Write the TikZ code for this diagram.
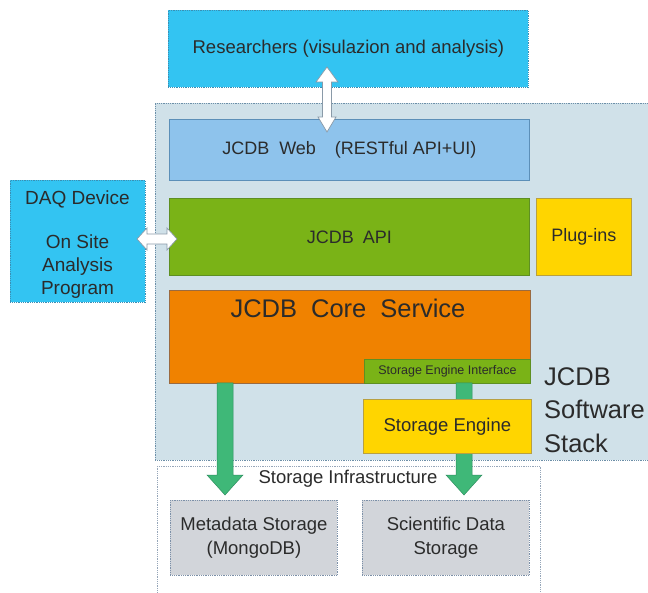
\documentclass[tikz,border=0pt]{standalone}
\usepackage{fontspec}
\setmainfont{Liberation Sans}
\definecolor{txt}{HTML}{2B2B2B}
\definecolor{cyanb}{HTML}{33C4F2}
\definecolor{cyanbd}{HTML}{3A8FB5}
\definecolor{stackbg}{HTML}{D0E1E9}
\definecolor{stackbd}{HTML}{6C8FA8}
\definecolor{webb}{HTML}{8EC3EC}
\definecolor{webbd}{HTML}{5C8FB8}
\definecolor{apig}{HTML}{7AB317}
\definecolor{apigd}{HTML}{5E8F22}
\definecolor{yel}{HTML}{FFD500}
\definecolor{yeld}{HTML}{B8A040}
\definecolor{org}{HTML}{F08200}
\definecolor{orgd}{HTML}{9A6A40}
\definecolor{grn}{HTML}{3FB878}
\definecolor{grnd}{HTML}{2E8F60}
\definecolor{gbox}{HTML}{D2D5DA}
\definecolor{gboxd}{HTML}{7C90A8}
\definecolor{arrbd}{HTML}{8A9AA8}
\begin{document}
\begin{tikzpicture}[x=1pt,y=-1pt,
  box/.style={draw, line width=0.8pt, inner sep=0pt, anchor=north west, text=txt, align=center},
  lbl/.style={text=txt, inner sep=0pt, align=center},
  garrow/.style={draw=grnd, fill=grn, line width=0.5pt},
  warrow/.style={draw=arrbd, fill=white, line width=0.7pt}]
\useasboundingbox (0,0) rectangle (648,593);
% background containers
\node[box, draw=stackbd, densely dotted, fill=stackbg, minimum width=505, minimum height=357] (stack) at (155,103) {};
\node[box, draw=gboxd!80, densely dotted, fill=white, minimum width=383, minimum height=140] (infra) at (157,466) {};
\node[lbl, font=\fontsize{18.5}{22}\selectfont] (infral) at (348,479) {Storage Infrastructure};
% top boxes
\node[box, draw=cyanbd, densely dotted, fill=cyanb, minimum width=360, minimum height=77, font=\fontsize{18.5}{22}\selectfont] (res) at (168,10) {Researchers (visulazion and analysis)};
\node[box, draw=webbd, fill=webb, minimum width=360, minimum height=61, font=\fontsize{18}{22}\selectfont] (web) at (169,119) {JCDB\hspace{10pt}Web\hspace{19pt}(RESTful API+UI)};
\node[box, draw=apigd, fill=apig, minimum width=360, minimum height=77, font=\fontsize{18}{22}\selectfont] (api) at (169,198) {JCDB\hspace{9pt}API};
\node[box, draw=yeld, fill=yel, minimum width=95, minimum height=77, font=\fontsize{18}{22}\selectfont] (plug) at (536,198) {Plug-ins};
\node[box, draw=cyanbd, densely dotted, fill=cyanb, minimum width=135, minimum height=122] (daq) at (10,180) {};
\begin{scope}[every node/.style={lbl, anchor=base, font=\fontsize{19}{22}\selectfont}]
\node (daq1) at (77.5,205) {DAQ Device};
\node (daq2) at (77.5,249) {On Site};
\node (daq3) at (77.5,272) {Analysis};
\node (daq4) at (77.5,295) {Program};
\end{scope}
% core
\node[box, draw=orgd, fill=org, minimum width=361, minimum height=93] (core) at (169,290) {};
\node[lbl, font=\fontsize{25.5}{28}\selectfont] (corel) at (348,308) {JCDB\hspace{14pt}Core\hspace{14pt}Service};
\node[box, draw=apigd, fill=apig, minimum width=166, minimum height=24, font=\fontsize{12.5}{14}\selectfont] (sei) at (364,359) {Storage Engine Interface};
% green arrows
\coordinate (la) at (225,383);
\coordinate (ra) at (464,383);
\foreach \c in {la,ra}{
  \draw[garrow]
    ([xshift=-8]\c) -- ([xshift=-8,yshift=-92]\c) -- ([xshift=-18,yshift=-92]\c)
    -- ([yshift=-112]\c) -- ([xshift=18,yshift=-92]\c) -- ([xshift=8,yshift=-92]\c)
    -- ([xshift=8]\c) -- cycle;
}
\node[box, draw=yeld, fill=yel, minimum width=168, minimum height=54, font=\fontsize{18.5}{22}\selectfont] (se) at (363,399) {Storage Engine};
\begin{scope}[every node/.style={lbl, anchor=base west, font=\fontsize{25.5}{33}\selectfont}]
\node (stack1) at (544,386) {JCDB};
\node (stack2) at (544,419) {Software};
\node (stack3) at (544,452) {Stack};
\end{scope}
% storage boxes
\node[box, draw=gboxd, densely dotted, fill=gbox, minimum width=167, minimum height=75, font=\fontsize{18.5}{24}\selectfont] (meta) at (170,500) {Metadata Storage\\(MongoDB)};
\node[box, draw=gboxd, densely dotted, fill=gbox, minimum width=167, minimum height=75, font=\fontsize{18.5}{24}\selectfont] (sci) at (362,500) {Scientific Data\\Storage};
% white double arrows
\coordinate (va) at (327,67);
\draw[warrow]
  (va) -- ++(11,15) -- ++(-6.5,0) -- ++(0,35) -- ++(4.5,0) -- ++(-9,15) -- ++(-9,-15)
  -- ++(4.5,0) -- ++(0,-35) -- ++(-6.5,0) -- cycle;
\coordinate (ha) at (137,239);
\draw[warrow]
  (ha) -- ++(10,-11) -- ++(0,6) -- ++(20,0) -- ++(0,-6) -- ++(10,11) -- ++(-10,11)
  -- ++(0,-6) -- ++(-20,0) -- ++(0,6) -- cycle;
\end{tikzpicture}
\end{document}
